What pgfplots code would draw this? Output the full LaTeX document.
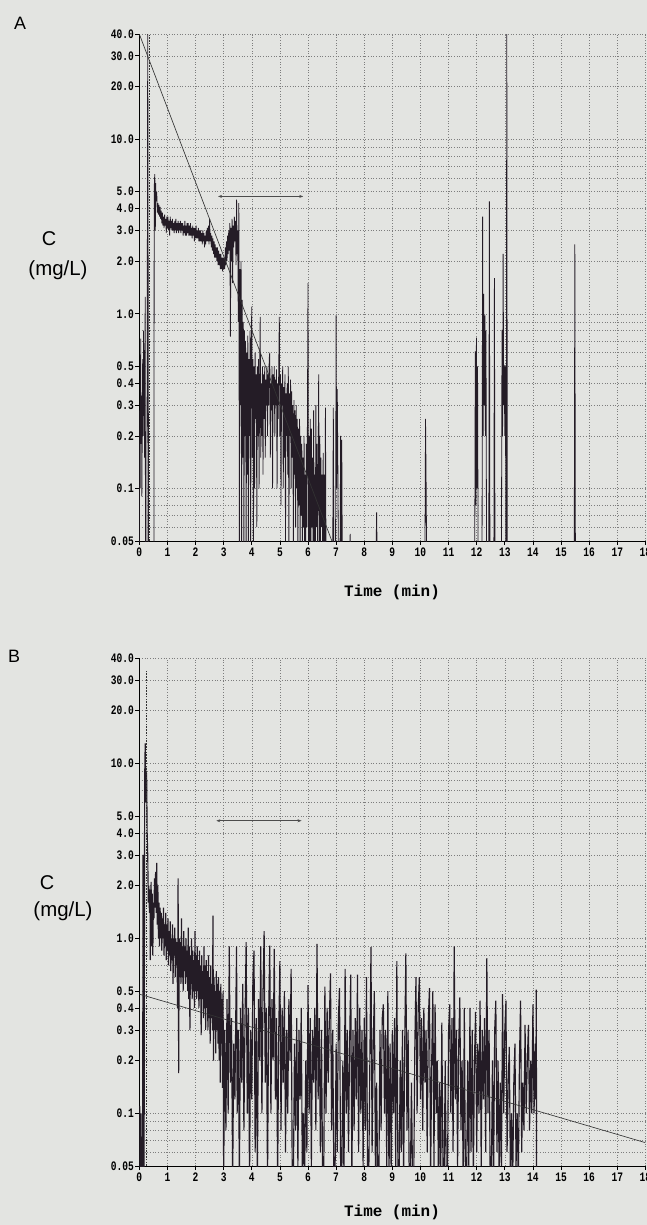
\documentclass[border=0pt]{standalone}
\usepackage{fontspec}
\setmainfont{Liberation Sans}
\newfontfamily\monofont{Liberation Mono}
\usepackage{graphicx}
\usepackage{pgfplots}
\pgfplotsset{compat=1.18}
\usetikzlibrary{arrows.meta}

\definecolor{paper}{RGB}{227,228,225}
\definecolor{ink}{RGB}{36,28,38}
\definecolor{gridc}{RGB}{125,125,125}
% narrow bold printer-style tick labels
\newcommand\tl[1]{\scalebox{0.74}[1]{#1}}

\pgfplotsset{
  every axis/.append style={
    scale only axis, width=506.1bp, anchor=south west,
    xmin=0, xmax=18, ymin=0.05, ymax=40,
    axis x line*=bottom, axis y line*=left,
    axis line style={black, line width=0.9pt},
    xtick={0,1,...,18},
    xticklabels={\tl0,\tl1,\tl2,\tl3,\tl4,\tl5,\tl6,\tl7,\tl8,\tl9,\tl{10},\tl{11},\tl{12},\tl{13},\tl{14},\tl{15},\tl{16},\tl{17},\tl{18}},
    ytick={0.05,0.1,0.2,0.3,0.4,0.5,1,2,3,4,5,10,20,30,40},
    yticklabels={\tl{0.05},\tl{0.1},\tl{0.2},\tl{0.3},\tl{0.4},\tl{0.5},\tl{1.0},\tl{2.0},\tl{3.0},\tl{4.0},\tl{5.0},\tl{10.0},\tl{20.0},\tl{30.0},\tl{40.0}},
    minor ytick={0.06,0.07,0.08,0.09,0.6,0.7,0.8,0.9,6,7,8,9},
    grid=both,
    major grid style={gridc, line width=0.5pt, dash pattern=on 0.7pt off 2pt},
    minor grid style={gridc, line width=0.5pt, dash pattern=on 0.7pt off 2pt},
    tick align=outside, major tick length=4bp, minor tick length=0pt,
    tick style={black, line width=0.7pt},
    xticklabel style={font=\monofont\bfseries\fontsize{13}{13}\selectfont, yshift=1bp},
    yticklabel style={font=\monofont\bfseries\fontsize{13}{13}\selectfont, xshift=2bp},
  },
}
\tikzset{
  mysignal/.style={ink, line width=0.8pt},
  myfit/.style={black!80, line width=0.65pt},
  mydash/.style={black!80, line width=0.7pt, dash pattern=on 1.6pt off 1.2pt},
  myarrow/.style={{Stealth[length=4bp,width=3bp]}-{Stealth[length=4bp,width=3bp]}, black!70, line width=0.7pt},
}

\begin{document}
\begin{tikzpicture}
\useasboundingbox (0bp,0bp) rectangle (647bp,-1225bp);
\fill[paper] (0bp,0bp) rectangle (647bp,-1225bp);

% ---------- panel A ----------
\node[font=\fontsize{18}{18}\selectfont] at (20bp,-23bp) {A};
\node[font=\fontsize{20}{20}\selectfont] at (49bp,-239bp) {C};
\node[font=\fontsize{20.5}{20.5}\selectfont] at (58bp,-270bp) {(mg/L)};
\node[font=\monofont\bfseries\fontsize{16}{16}\selectfont] at (392bp,-592bp) {Time (min)};

\begin{semilogyaxis}[at={(139.3bp,-541bp)}, height=507bp]
\addplot[mysignal] coordinates {
(0,0.04) (0.02,0.28) (0.03,0.10) (0.05,0.72) (0.06,0.18) (0.08,0.34) (0.09,0.09)
(0.11,0.30) (0.12,0.55) (0.14,0.20) (0.15,0.80) (0.17,0.26) (0.18,0.62) (0.19,0.15)
(0.21,1.25) (0.22,0.04) (0.27,0.04) (0.30,45) (0.33,0.04) (0.52,0.04)
(0.53,5.2) (0.55,6.3) (0.56,5.0) (0.57,3.0) (0.58,5.6) (0.60,4.4) (0.62,5.0)
(0.64,3.8) (0.66,4.3) (0.68,3.7) (0.70,4.2) (0.72,3.6) (0.74,4.1) (0.76,3.5)
(0.78,3.9) (0.80,3.3) (0.82,3.8) (0.84,3.2) (0.86,3.6) (0.88,3.1) (0.90,3.7)
(0.92,3.2) (0.94,3.5) (0.96,2.9) (0.98,3.6) (1.00,3.1) (1.02,3.6) (1.04,3.0)
(1.06,3.4) (1.08,2.8) (1.10,3.6) (1.12,3.1) (1.14,3.4) (1.16,3.0) (1.18,3.5)
(1.20,3.0) (1.22,3.3) (1.24,2.9) (1.26,3.4) (1.28,3.0) (1.30,3.5) (1.32,2.9)
(1.34,3.3) (1.36,3.0) (1.38,3.4) (1.40,2.9) (1.42,3.3) (1.44,3.0) (1.46,3.4)
(1.48,2.9) (1.50,3.3) (1.52,3.0) (1.54,3.3) (1.56,2.8) (1.58,3.2) (1.60,2.9)
(1.62,3.4) (1.64,2.8) (1.66,3.2) (1.68,2.8) (1.70,3.3) (1.72,2.9) (1.74,3.3)
(1.76,2.8) (1.78,3.2) (1.80,2.8) (1.82,3.3) (1.84,2.8) (1.86,3.1) (1.88,2.7)
(1.90,3.2) (1.92,2.8) (1.94,3.1) (1.96,2.6) (1.98,3.1) (2.00,2.7) (2.02,3.2)
(2.04,2.7) (2.06,3.0) (2.08,2.7) (2.10,3.1) (2.12,2.6) (2.14,3.0) (2.16,2.6)
(2.18,3.0) (2.20,2.6) (2.22,2.9) (2.24,2.5) (2.26,3.0) (2.28,2.6) (2.30,2.9)
(2.32,2.4) (2.34,2.8) (2.36,2.5) (2.38,3.0) (2.40,2.6) (2.42,3.1) (2.44,2.6)
(2.46,3.2) (2.48,2.5) (2.50,3.5) (2.52,2.6) (2.54,2.9) (2.56,2.4) (2.58,2.8)
(2.60,2.3) (2.62,2.7) (2.64,2.2) (2.66,2.6) (2.68,2.1) (2.70,2.5) (2.72,2.1)
(2.74,2.4) (2.76,2.0) (2.78,2.4) (2.80,1.9) (2.82,2.3) (2.84,1.9) (2.86,2.2)
(2.88,1.8) (2.90,2.2) (2.92,1.8) (2.94,2.1) (2.96,1.75) (2.98,2.1) (3.00,1.8)
(3.02,2.1) (3.04,1.8) (3.06,2.4) (3.08,1.9) (3.10,2.6) (3.12,2.0) (3.14,2.8)
(3.16,2.2) (3.18,3.0) (3.20,2.3) (3.22,3.3) (3.24,0.74) (3.26,3.1) (3.28,2.0)
(3.30,3.5) (3.32,1.5) (3.34,3.2) (3.36,2.4) (3.38,3.6) (3.40,2.6) (3.42,3.4)
(3.44,1.9) (3.46,4.5) (3.48,2.2) (3.50,3.0) (3.52,0.9) (3.54,4.3) (3.56,0.04)
(3.58,1.8) (3.60,0.3) (3.62,2.0) (3.64,0.04) (3.66,1.2) (3.68,0.15) (3.70,0.9)
(3.72,0.04) (3.74,0.8) (3.76,0.2) (3.78,0.7) (3.80,0.04) (3.82,0.6) (3.84,0.12)
(3.86,0.75) (3.88,0.04) (3.90,0.55) (3.92,0.2) (3.94,0.8) (3.96,0.04) (3.98,0.6)
(4.00,1.1) (4.02,0.15) (4.04,0.55) (4.06,0.04) (4.08,0.5) (4.10,0.1) (4.12,0.6)
(4.14,0.25) (4.16,0.45) (4.18,0.06) (4.20,0.5) (4.22,0.2) (4.24,0.55) (4.26,0.1)
(4.28,0.45) (4.30,0.96) (4.32,0.15) (4.34,0.4) (4.36,0.2) (4.38,0.5) (4.40,0.12)
(4.42,0.45) (4.44,0.25) (4.46,0.5) (4.48,0.15) (4.50,0.42) (4.52,0.3) (4.54,0.5)
(4.56,0.2) (4.58,0.45) (4.60,0.3) (4.62,0.55) (4.64,0.6) (4.66,0.15) (4.68,0.4)
(4.70,0.28) (4.72,0.5) (4.74,0.1) (4.76,0.45) (4.78,0.3) (4.80,0.5) (4.82,0.2)
(4.84,0.42) (4.86,0.3) (4.88,0.48) (4.90,0.1) (4.92,0.4) (4.94,0.25) (4.96,0.5)
(4.98,0.96) (5.00,0.2) (5.02,0.45) (5.04,0.08) (5.06,0.4) (5.08,0.3) (5.10,0.5)
(5.12,0.1) (5.14,0.38) (5.16,0.15) (5.18,0.45) (5.20,0.05) (5.22,0.35) (5.24,0.2)
(5.26,0.4) (5.28,0.12) (5.30,0.5) (5.32,0.04) (5.34,0.35) (5.36,0.2) (5.38,0.42)
(5.40,0.1) (5.42,0.36) (5.44,0.15) (5.46,0.3) (5.48,0.04) (5.50,0.32) (5.52,0.12)
(5.54,0.28) (5.56,0.06) (5.58,0.3) (5.60,0.1) (5.62,0.25) (5.64,0.04) (5.66,0.22)
(5.68,0.08) (5.70,0.25) (5.72,0.05) (5.74,0.2) (5.76,0.07) (5.78,0.18) (5.80,0.04)
(5.82,0.15) (5.84,0.06) (5.86,0.2) (5.88,0.04) (5.90,0.12) (5.92,0.05) (5.94,0.18)
(5.96,0.06) (5.98,0.25) (6.00,1.5) (6.02,0.04) (6.04,0.2) (6.06,0.05) (6.08,0.25)
(6.10,0.04) (6.12,0.22) (6.14,0.06) (6.16,0.15) (6.18,0.04) (6.20,0.28) (6.22,0.05)
(6.24,0.12) (6.26,0.04) (6.28,0.3) (6.30,0.06) (6.32,0.18) (6.34,0.04) (6.36,0.12)
(6.38,0.45) (6.40,0.05) (6.42,0.2) (6.44,0.04) (6.46,0.15) (6.48,0.06) (6.50,0.12)
(6.52,0.04) (6.54,0.16) (6.56,0.04) (6.58,0.12) (6.60,0.04) (6.62,0.29) (6.64,0.04)
(6.88,0.04) (6.90,0.29) (6.92,0.04) (6.98,0.04) (7.00,0.98) (7.02,0.1) (7.04,0.37)
(7.06,0.15) (7.08,0.04) (7.14,0.04) (7.16,0.2) (7.18,0.04) (7.20,0.19) (7.22,0.04)
(7.48,0.04) (7.50,0.055) (7.52,0.04) (8.42,0.04) (8.44,0.073) (8.46,0.04)
(10.16,0.04) (10.18,0.25) (10.20,0.11) (10.22,0.04)
(11.93,0.04) (11.95,0.61) (11.97,0.08) (11.99,0.73) (12.01,0.1) (12.03,0.5) (12.05,0.04)
(12.19,0.04) (12.21,3.6) (12.23,0.2) (12.25,1.3) (12.27,0.3) (12.29,0.98) (12.31,0.2)
(12.33,0.8) (12.35,0.04) (12.43,0.04) (12.45,4.4) (12.47,0.04) (12.61,0.04) (12.63,1.6)
(12.65,0.04) (12.88,0.04) (12.90,0.81) (12.92,0.2) (12.94,2.2) (12.96,0.3) (12.98,0.51)
(13.00,0.2) (13.02,0.5) (13.04,0.04) (13.05,0.04) (13.07,45) (13.09,0.04)
(15.47,0.04) (15.49,2.5) (15.51,0.04) (18,0.04)
};
\addplot[myfit] coordinates {(0,40) (6.85,0.05)};
\addplot[mydash] coordinates {(0.37,0.05) (0.37,40)};
\draw[myarrow] (axis cs:2.8,4.7) -- (axis cs:5.83,4.7);
\end{semilogyaxis}

% ---------- panel B ----------
\node[font=\fontsize{18}{18}\selectfont] at (14bp,-656bp) {B};
\node[font=\fontsize{20}{20}\selectfont] at (47bp,-883bp) {C};
\node[font=\fontsize{20.5}{20.5}\selectfont] at (63bp,-911bp) {(mg/L)};
\node[font=\monofont\bfseries\fontsize{16}{16}\selectfont] at (392bp,-1212bp) {Time (min)};

\begin{semilogyaxis}[at={(139.3bp,-1166bp)}, height=508bp]
\addplot[mysignal, line width=1.15pt] coordinates {
(0,0.04) (0.02,0.11) (0.04,0.04) (0.06,0.1) (0.08,0.04) (0.12,0.04) (0.13,3.0)
(0.14,0.04) (0.17,0.04) (0.19,8) (0.21,13) (0.22,6) (0.23,9.5) (0.24,7) (0.26,8.8)
(0.28,4) (0.30,3) (0.32,1.6) (0.34,2.0) (0.36,1.4) (0.38,1.9) (0.39,0.75) (0.40,1.2)
(0.42,2.1) (0.44,0.9) (0.46,1.8) (0.48,0.8) (0.50,1.6) (0.52,1.3) (0.54,2.2)
(0.56,1.5) (0.58,2.4) (0.60,1.4) (0.62,2.7) (0.64,1.2) (0.66,2.0) (0.68,1.0)
(0.70,1.6) (0.72,0.9) (0.74,1.5) (0.76,1.0) (0.78,1.4) (0.80,0.85) (0.82,1.3)
(0.84,1.0) (0.86,1.5) (0.88,0.8) (0.90,1.2) (0.92,0.9) (0.94,1.4) (0.96,0.75)
(0.98,1.2) (1.00,0.85) (1.02,1.3) (1.04,0.7) (1.06,1.1) (1.08,0.8) (1.10,1.25)
(1.12,0.65) (1.14,1.0) (1.16,0.75) (1.18,1.2) (1.20,0.55) (1.22,1.0) (1.24,0.8)
(1.26,1.15) (1.28,0.6) (1.30,1.0) (1.32,0.7) (1.34,0.95) (1.36,0.4) (1.38,2.2)
(1.40,0.17) (1.42,1.0) (1.44,0.6) (1.46,0.95) (1.48,0.55) (1.50,1.3) (1.52,0.6)
(1.54,0.9) (1.56,0.5) (1.58,1.1) (1.60,0.65) (1.62,0.9) (1.64,0.55) (1.66,1.0)
(1.68,0.6) (1.70,0.85) (1.72,0.5) (1.74,1.15) (1.76,0.45) (1.78,0.9) (1.80,0.3)
(1.82,0.8) (1.84,0.55) (1.86,1.0) (1.88,0.45) (1.90,0.85) (1.92,0.5) (1.94,0.75)
(1.96,0.4) (1.98,1.1) (2.00,0.5) (2.02,0.8) (2.04,0.45) (2.06,0.9) (2.08,0.5)
(2.10,0.75) (2.12,0.4) (2.14,0.85) (2.16,0.45) (2.18,0.7) (2.20,0.28) (2.22,0.8)
(2.24,0.45) (2.26,0.65) (2.28,0.35) (2.30,0.9) (2.32,0.4) (2.34,0.7) (2.36,0.3)
(2.38,0.75) (2.40,0.4) (2.42,0.65) (2.44,0.3) (2.46,0.8) (2.48,0.35) (2.50,0.6)
(2.52,0.25) (2.54,0.7) (2.56,0.35) (2.58,0.55) (2.60,0.3) (2.62,1.35) (2.64,0.2)
(2.66,0.6) (2.68,0.3) (2.70,0.5) (2.72,0.22) (2.74,0.65) (2.76,0.3) (2.78,0.55)
(2.80,0.25) (2.82,0.6) (2.84,0.2) (2.86,0.5) (2.88,0.15) (2.90,0.55) (2.92,0.25)
(2.94,0.45) (2.96,0.14) (2.98,0.5) (3.00,0.04)
(3.04,0.3) (3.08,0.08) (3.12,0.45) (3.16,0.1) (3.20,0.9) (3.24,0.15) (3.28,0.35)
(3.32,0.04) (3.36,0.25) (3.40,0.12) (3.44,0.5) (3.46,0.9) (3.48,0.1) (3.52,0.3)
(3.56,0.04) (3.60,0.4) (3.64,0.15) (3.68,0.55) (3.72,0.08) (3.76,0.35) (3.80,0.95)
(3.84,0.1) (3.88,0.4) (3.92,0.04) (3.96,0.3) (4.00,0.12) (4.04,0.6) (4.08,0.85)
(4.12,0.06) (4.16,0.35) (4.20,0.04) (4.24,0.45) (4.28,0.2) (4.32,0.9) (4.36,0.1)
(4.40,0.5) (4.44,1.1) (4.48,0.15) (4.52,0.4) (4.56,0.04) (4.60,0.35) (4.64,0.91)
(4.68,0.1) (4.72,0.45) (4.76,0.2) (4.80,0.87) (4.84,0.12) (4.88,0.35) (4.92,0.04)
(4.96,0.3) (5.00,0.74) (5.04,0.08) (5.08,0.4) (5.12,0.15) (5.16,0.5) (5.20,0.06)
(5.24,0.3) (5.28,0.1) (5.32,0.45) (5.36,0.2) (5.40,0.67) (5.44,0.04) (5.48,0.04)
(5.52,0.25) (5.56,0.08) (5.60,0.35) (5.64,0.05) (5.68,0.3) (5.72,0.12) (5.76,0.4)
(5.80,0.04) (5.84,0.1) (5.88,0.04) (5.92,0.2) (5.96,0.06) (6.00,0.54) (6.04,0.1)
(6.08,0.35) (6.12,0.05) (6.16,0.3) (6.20,0.15) (6.24,0.4) (6.28,0.08) (6.32,0.93)
(6.36,0.12) (6.40,0.35) (6.44,0.06) (6.48,0.3) (6.52,0.04) (6.56,0.04) (6.60,0.53)
(6.64,0.1) (6.68,0.4) (6.72,0.15) (6.76,0.35) (6.80,0.63) (6.84,0.08) (6.88,0.3)
(6.92,0.04) (6.96,0.04) (7.00,0.25) (7.04,0.06) (7.08,0.35) (7.12,0.52) (7.16,0.05)
(7.20,0.04) (7.24,0.2) (7.28,0.04) (7.32,0.67) (7.36,0.1) (7.40,0.3) (7.44,0.06)
(7.48,0.25) (7.52,0.62) (7.56,0.04) (7.60,0.3) (7.64,0.08) (7.68,0.35) (7.72,0.12)
(7.76,0.62) (7.80,0.06) (7.84,0.4) (7.88,0.1) (7.92,0.3) (7.96,0.05) (8.00,0.35)
(8.04,0.08) (8.08,0.6) (8.12,0.04) (8.16,0.04) (8.20,0.2) (8.24,0.89) (8.28,0.06)
(8.32,0.25) (8.36,0.5) (8.40,0.04) (8.44,0.15) (8.48,0.04) (8.52,0.04) (8.56,0.3)
(8.60,0.08) (8.64,0.35) (8.68,0.42) (8.72,0.1) (8.76,0.3) (8.80,0.05) (8.84,0.5)
(8.88,0.04) (8.92,0.25) (8.96,0.04) (9.00,0.3) (9.04,0.1) (9.08,0.35) (9.12,0.05)
(9.16,0.74) (9.20,0.04) (9.24,0.04) (9.28,0.2) (9.32,0.06) (9.36,0.3) (9.40,0.04)
(9.44,0.25) (9.48,0.82) (9.52,0.08) (9.56,0.3) (9.60,0.04) (9.64,0.04) (9.68,0.15)
(9.72,0.04) (9.76,0.04) (9.80,0.25) (9.84,0.6) (9.88,0.1) (9.92,0.4) (9.96,0.6)
(10.00,0.12) (10.04,0.35) (10.08,0.08) (10.12,0.4) (10.16,0.15) (10.20,0.3)
(10.24,0.06) (10.28,0.35) (10.32,0.52) (10.36,0.04) (10.40,0.2) (10.44,0.5)
(10.48,0.05) (10.52,0.42) (10.56,0.1) (10.60,0.2) (10.64,0.04) (10.68,0.15)
(10.72,0.04) (10.76,0.33) (10.80,0.05) (10.84,0.04) (10.88,0.2) (10.92,0.04)
(10.96,0.04) (11.00,0.3) (11.04,0.42) (11.08,0.1) (11.12,0.35) (11.16,0.06)
(11.20,0.9) (11.24,0.12) (11.28,0.3) (11.32,0.05) (11.36,0.25) (11.40,0.46)
(11.44,0.08) (11.48,0.2) (11.52,0.04) (11.56,0.4) (11.60,0.04) (11.64,0.04)
(11.68,0.2) (11.72,0.05) (11.76,0.4) (11.80,0.06) (11.84,0.3) (11.88,0.04)
(11.92,0.2) (11.96,0.38) (12.00,0.06) (12.04,0.25) (12.08,0.1) (12.12,0.44)
(12.16,0.05) (12.20,0.3) (12.24,0.12) (12.28,0.35) (12.32,0.06) (12.36,0.77)
(12.40,0.1) (12.44,0.3) (12.48,0.04) (12.52,0.04) (12.56,0.2) (12.60,0.04)
(12.64,0.3) (12.68,0.44) (12.72,0.06) (12.76,0.2) (12.80,0.04) (12.84,0.15)
(12.88,0.05) (12.92,0.48) (12.96,0.1) (13.00,0.3) (13.04,0.44) (13.08,0.06)
(13.12,0.15) (13.16,0.24) (13.20,0.04) (13.24,0.1) (13.28,0.04) (13.32,0.15)
(13.36,0.25) (13.40,0.05) (13.44,0.1) (13.48,0.04) (13.52,0.2) (13.56,0.44)
(13.60,0.06) (13.64,0.15) (13.68,0.08) (13.72,0.32) (13.76,0.1) (13.80,0.2)
(13.84,0.32) (13.88,0.08) (13.92,0.2) (13.96,0.1) (14.00,0.42) (14.04,0.1)
(14.08,0.25) (14.10,0.12) (14.12,0.51) (14.13,0.04) (18,0.04)
};
\addplot[myfit] coordinates {(0,0.48) (18,0.068)};
\addplot[mydash] coordinates {(0.26,0.05) (0.26,34)};
\draw[myarrow] (axis cs:2.74,4.7) -- (axis cs:5.77,4.7);
\end{semilogyaxis}
\end{tikzpicture}
\end{document}
